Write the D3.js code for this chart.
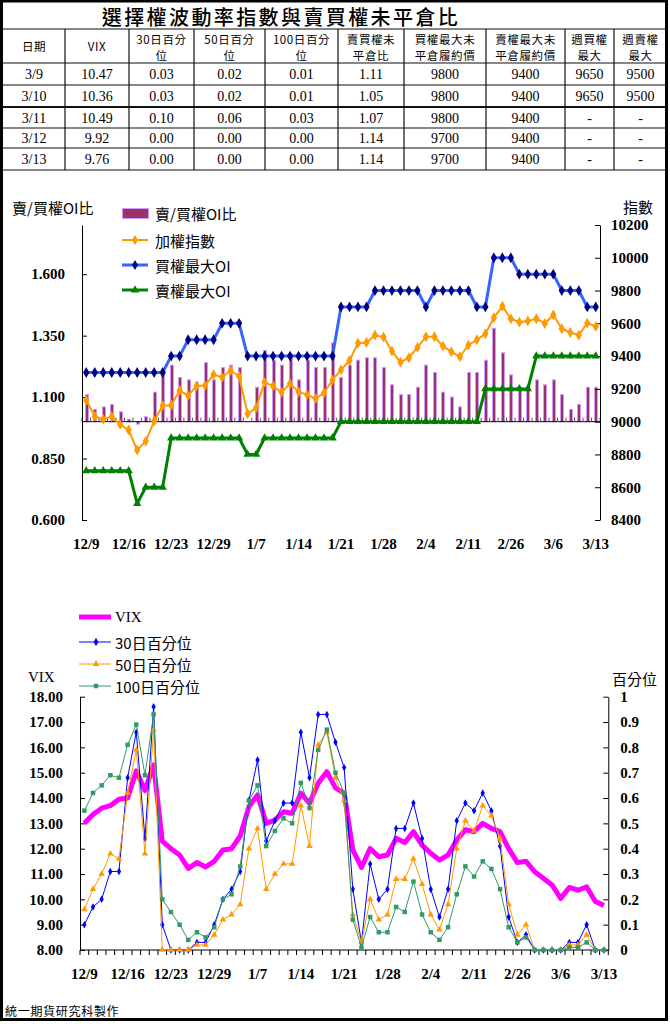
<!DOCTYPE html>
<html><head><meta charset="utf-8">
<script src="https://cdn.jsdelivr.net/npm/d3@7"></script>
<style>body{margin:0;background:#fff;}svg{display:block;}</style>
</head><body>
<svg id="c" width="670" height="1024"></svg>
<script>
// ---------------- DATA ----------------
const dates = ["12/9","12/10","12/11","12/12","12/15","12/16","12/17","12/18","12/19","12/22",
"12/23","12/24","12/25","12/26","12/27","12/29","12/30","12/31","1/5","1/6",
"1/7","1/8","1/9","1/12","1/13","1/14","1/15","1/16","1/19","1/20",
"1/21","1/22","1/23","1/26","1/27","1/28","1/29","1/30","2/2","2/3",
"2/4","2/5","2/6","2/9","2/10","2/11","2/12","2/13","2/24","2/25",
"2/26","3/2","3/3","3/4","3/5","3/6","3/9","3/10","3/11","3/12","3/13"];
const labelIdx = [0,5,10,15,20,25,30,35,40,45,50,55,60];

const oiRatio = [1.11,1.05,1.06,1.07,1.04,1.01,0.99,1.02,1.12,1.20,
1.23,1.18,1.17,1.16,1.24,1.17,1.22,1.23,1.22,1.00,
1.14,1.29,1.25,1.23,1.26,1.17,1.25,1.22,1.22,1.32,
1.18,1.23,1.25,1.26,1.26,1.22,1.15,1.11,1.11,1.14,
1.23,1.20,1.12,1.10,1.06,1.20,1.20,1.25,1.38,1.28,
1.19,1.14,1.14,1.17,1.15,1.17,1.11,1.05,1.07,1.14,1.14];
const taiex = [9130,9033,9014,9031,8982,8949,8827,8880,9004,9098,
9100,9190,9159,9218,9220,9287,9271,9312,9277,9049,
9084,9240,9218,9179,9232,9182,9165,9141,9175,9255,
9316,9373,9479,9483,9528,9516,9430,9363,9390,9453,
9518,9518,9461,9426,9396,9467,9500,9536,9634,9705,
9628,9607,9614,9628,9599,9652,9567,9544,9528,9601,9581];
const callMaxOI = [9300,9300,9300,9300,9300,9300,9300,9300,9300,9300,
9400,9400,9500,9500,9500,9500,9600,9600,9600,9400,
9400,9400,9400,9400,9400,9400,9400,9400,9400,9400,
9700,9700,9700,9700,9800,9800,9800,9800,9800,9800,
9700,9800,9800,9800,9800,9800,9700,9700,10000,10000,
10000,9900,9900,9900,9900,9900,9800,9800,9800,9700,9700];
const putMaxOI = [8700,8700,8700,8700,8700,8700,8500,8600,8600,8600,
8900,8900,8900,8900,8900,8900,8900,8900,8900,8800,
8800,8900,8900,8900,8900,8900,8900,8900,8900,8900,
9000,9000,9000,9000,9000,9000,9000,9000,9000,9000,
9000,9000,9000,9000,9000,9000,9000,9200,9200,9200,
9200,9200,9200,9400,9400,9400,9400,9400,9400,9400,9400];

const vix = [13.00,13.35,13.60,13.70,13.95,14.00,15.07,14.30,15.30,12.30,
12.00,11.75,11.22,11.45,11.28,11.50,11.95,12.00,12.50,13.66,
14.12,13.00,13.13,13.46,13.40,14.19,13.79,14.58,15.04,14.40,
14.19,11.95,11.26,12.01,11.68,11.75,12.41,12.24,12.67,12.14,
11.82,11.55,11.75,12.34,12.75,12.67,13.00,12.80,12.67,12.00,
11.45,11.50,11.09,10.83,10.57,10.04,10.47,10.36,10.49,9.92,9.76];
const pct30 = [0.10,0.17,0.20,0.31,0.31,0.68,0.86,0.44,0.96,0.10,
0,0,0,0.03,0.03,0.10,0.20,0.24,0.31,0.59,
0.75,0.43,0.51,0.58,0.58,0.86,0.68,0.93,0.93,0.82,
0.72,0.24,0.03,0.34,0.20,0.24,0.48,0.48,0.58,0.44,
0.24,0.13,0.24,0.51,0.58,0.55,0.62,0.55,0.41,0.13,
0.03,0.06,0,0,0,0,0.03,0.03,0.10,0,0];
const pct50 = [0.16,0.24,0.30,0.38,0.36,0.62,0.79,0.38,0.87,0,
0,0,0,0.02,0.02,0.06,0.12,0.14,0.18,0.40,
0.48,0.24,0.30,0.34,0.34,0.57,0.41,0.81,0.86,0.68,
0.59,0.14,0.03,0.20,0.12,0.14,0.28,0.28,0.36,0.26,
0.14,0.08,0.18,0.40,0.51,0.47,0.57,0.53,0.44,0.18,
0.06,0.10,0,0,0,0,0.02,0.02,0.06,0,0];
const pct100 = [0.55,0.62,0.65,0.69,0.68,0.81,0.89,0.69,0.93,0.20,
0.15,0.10,0.04,0.07,0.05,0.09,0.20,0.22,0.33,0.59,
0.65,0.41,0.47,0.52,0.50,0.66,0.56,0.79,0.87,0.70,
0.62,0.12,0.01,0.13,0.07,0.07,0.17,0.15,0.27,0.14,
0.07,0.04,0.09,0.22,0.33,0.29,0.35,0.32,0.24,0.09,
0.03,0.05,0,0,0,0,0.01,0.01,0.03,0,0];

const upperTicksL = [0.6,0.85,1.1,1.35,1.6];
const upperTicksR = [8400,8600,8800,9000,9200,9400,9600,9800,10000,10200];
const lowerTicksL = [8,9,10,11,12,13,14,15,16,17,18];
const lowerTicksR = [0,0.1,0.2,0.3,0.4,0.5,0.6,0.7,0.8,0.9,1];

// table
const tableTitle = "選擇權波動率指數與賣買權未平倉比";
const tableHeader = [["日期"],["VIX"],["30日百分","位"],["50日百分","位"],["100日百分","位"],
  ["賣買權未","平倉比"],["買權最大未","平倉履約價"],["賣權最大未","平倉履約價"],["週買權","最大"],["週賣權","最大"]];
const tDates = ["3/9","3/10","3/11","3/12","3/13"];
const tVix = ["10.47","10.36","10.49","9.92","9.76"];
const t30 = ["0.03","0.03","0.10","0.00","0.00"];
const t50 = ["0.02","0.02","0.06","0.00","0.00"];
const t100 = ["0.01","0.01","0.03","0.00","0.00"];
const tRatio = ["1.11","1.05","1.07","1.14","1.14"];
const tCallStrike = ["9800","9800","9800","9700","9700"];
const tPutStrike = ["9400","9400","9400","9400","9400"];
const tWeekCall = ["9650","9650","-","-","-"];
const tWeekPut = ["9500","9500","-","-","-"];

// ---------------- DRAW ----------------
const svg = d3.select("#c");
const CJK = "'Noto Sans CJK TC','Noto Sans CJK SC',sans-serif";
const SERIF = "'Liberation Serif','Times New Roman',serif";
svg.append("rect").attr("width",670).attr("height",1024).attr("fill","#fff");

// ---- table ----
const colX = [3,65,129,194,265,338,404,486,565,614,667];
const rowY = [29,63,85,107,128,148,170];
const tg = svg.append("g");
tg.append("text").attr("x",281).attr("y",24.5).attr("text-anchor","middle")
  .attr("font-family",CJK).attr("font-size",20).attr("letter-spacing",2.4).attr("font-weight",500)
  .attr("fill","#000").text(tableTitle);
rowY.forEach((y,k)=>{
  tg.append("line").attr("x1",3).attr("x2",667).attr("y1",y).attr("y2",y)
    .attr("stroke","#111").attr("stroke-width",k===3?2:1.2);
});
colX.slice(1,-1).forEach(x=>{
  tg.append("line").attr("x1",x).attr("x2",x).attr("y1",29).attr("y2",170).attr("stroke","#111").attr("stroke-width",1.2);
});
tableHeader.forEach((lines,c)=>{
  const cx=(colX[c]+colX[c+1])/2;
  const ys = lines.length===1?[51]:[43.7,60.4];
  lines.forEach((s,j)=>{
    tg.append("text").attr("x",cx).attr("y",ys[j]).attr("text-anchor","middle")
      .attr("font-family",CJK).attr("font-size",11.5).attr("letter-spacing",0.6).attr("fill","#000").text(s);
  });
});
const tCols=[tDates,tVix,t30,t50,t100,tRatio,tCallStrike,tPutStrike,tWeekCall,tWeekPut];
tCols.forEach((col,c)=>{
  const cx=(colX[c]+colX[c+1])/2;
  col.forEach((s,r)=>{
    tg.append("text").attr("x",cx).attr("y",(rowY[r+1]+rowY[r+2])/2+5).attr("text-anchor","middle")
      .attr("font-family",SERIF).attr("font-size",14).attr("fill","#000").text(s);
  });
});

function styleAxis(g){
  g.attr("font-family",SERIF).attr("font-size",15).attr("font-weight","bold");
  g.selectAll("text").attr("fill","#000");
  g.selectAll("line,path").attr("stroke","#000");
}

// ---- upper chart ----
const xU = d3.scaleBand().domain(d3.range(dates.length)).range([82,600]).padding(0);
const cU = i => xU(i)+xU.bandwidth()/2;
const yL = d3.scaleLinear().domain([0.6,1.8]).range([520,225]);
const yR = d3.scaleLinear().domain([8400,10200]).range([520,225]);
const base = yL(1.0);

svg.append("g").selectAll("rect").data(oiRatio).join("rect")
  .attr("x",(d,i)=>Math.round(cU(i)-1.5)+0.5).attr("width",3)
  .attr("y",d=>Math.min(yL(d),base)).attr("height",d=>Math.abs(yL(d)-base))
  .attr("fill","#993366").attr("stroke","#CC99FF").attr("stroke-width",1);

svg.append("line").attr("x1",82).attr("x2",600).attr("y1",base).attr("y2",base).attr("stroke","#000");
svg.append("g").selectAll("line").data(d3.range(dates.length+1)).join("line")
  .attr("x1",k=>82+k*xU.step()).attr("x2",k=>82+k*xU.step())
  .attr("y1",base).attr("y2",base-4).attr("stroke","#555");

svg.append("g").attr("transform","translate(82,0)")
  .call(d3.axisLeft(yL).tickValues(upperTicksL).tickFormat(d3.format(".3f")).tickSizeInner(-5).tickSizeOuter(0).tickPadding(17))
  .call(styleAxis);
svg.append("g").attr("transform","translate(600,0)")
  .call(d3.axisRight(yR).tickValues(upperTicksR).tickFormat(d3.format("d")).tickSizeInner(-5).tickSizeOuter(0).tickPadding(11))
  .call(styleAxis);
svg.append("g").attr("transform","translate(0,520)")
  .call(d3.axisBottom(xU).tickValues(labelIdx).tickFormat(i=>dates[i]).tickSize(0).tickPadding(18))
  .call(g=>g.select(".domain").remove()).call(styleAxis);

function series(g, data, xf, yf, color, w, sym, size, mcolor){
  g.append("path").datum(data).attr("fill","none").attr("stroke",color).attr("stroke-width",w)
    .attr("stroke-linejoin","round")
    .attr("d",d3.line().x((d,i)=>xf(i)).y(d=>yf(d)));
  if(sym){
    g.append("g").selectAll("path").data(data).join("path")
      .attr("transform",(d,i)=>`translate(${xf(i)},${yf(d)})`)
      .attr("d",d3.symbol(sym,size)).attr("fill",mcolor);
  }
}
const ug = svg.append("g");
series(ug, taiex, cU, yR, "#FF9900", 2, d3.symbolDiamond, 34, "#FF9900");
series(ug, callMaxOI, cU, yR, "#3366FF", 3, d3.symbolDiamond, 34, "#000080");
series(ug, putMaxOI, cU, yR, "#008000", 3, d3.symbolTriangle, 30, "#008000");

svg.append("text").attr("x",12).attr("y",207).attr("dominant-baseline","central")
  .attr("font-family",CJK).attr("font-size",15).attr("fill","#000").text("賣/買權OI比");
svg.append("text").attr("x",623).attr("y",206).attr("dominant-baseline","central")
  .attr("font-family",CJK).attr("font-size",15).attr("fill","#000").text("指數");

const lg = svg.append("g");
lg.append("rect").attr("x",122.5).attr("y",208.5).attr("width",26).attr("height",10)
  .attr("fill","#993366").attr("stroke","#CC99FF");
const legU = [["賣/買權OI比",213,null],["加權指數",240,["#FF9900",2,d3.symbolDiamond,"#FF9900"]],
  ["買權最大OI",265,["#3366FF",3,d3.symbolDiamond,"#000080"]],["賣權最大OI",290,["#008000",3,d3.symbolTriangle,"#008000"]]];
legU.forEach(([t,y,st])=>{
  if(st){
    lg.append("line").attr("x1",122).attr("x2",148).attr("y1",y).attr("y2",y).attr("stroke",st[0]).attr("stroke-width",st[1]);
    lg.append("path").attr("transform",`translate(135,${y})`).attr("d",d3.symbol(st[2],30)).attr("fill",st[3]);
  }
  lg.append("text").attr("x",155).attr("y",y).attr("dominant-baseline","central")
    .attr("font-family",CJK).attr("font-size",15).attr("fill","#000").text(t);
});

// ---- lower chart ----
const xLo = d3.scaleBand().domain(d3.range(dates.length)).range([80,608.3]).padding(0);
const cL = i => xLo(i)+xLo.bandwidth()/2;
const yV = d3.scaleLinear().domain([8,18]).range([950,696.7]);
const yP = d3.scaleLinear().domain([0,1]).range([950,696.7]);

svg.append("g").attr("transform","translate(80,0)")
  .call(d3.axisLeft(yV).tickValues(lowerTicksL).tickFormat(d3.format(".2f")).tickSizeInner(-5).tickSizeOuter(0).tickPadding(17))
  .call(styleAxis);
svg.append("g").attr("transform","translate(608.3,0)")
  .call(d3.axisRight(yP).tickValues(lowerTicksR).tickFormat(d=>d===0?"0":d===1?"1":d3.format(".1f")(d)).tickSizeInner(-5).tickSizeOuter(0).tickPadding(12))
  .call(styleAxis);
svg.append("line").attr("x1",80).attr("x2",608.3).attr("y1",950).attr("y2",950).attr("stroke","#000");
svg.append("g").selectAll("line").data(d3.range(dates.length+1)).join("line")
  .attr("x1",k=>80+k*xLo.step()).attr("x2",k=>80+k*xLo.step())
  .attr("y1",950).attr("y2",955).attr("stroke","#000");
svg.append("g").attr("transform","translate(0,950)")
  .call(d3.axisBottom(xLo).tickValues(labelIdx).tickFormat(i=>dates[i]).tickSize(0).tickPadding(18))
  .call(g=>g.select(".domain").remove()).call(styleAxis);

const lgr = svg.append("g");
series(lgr, vix, cL, yV, "#FF00FF", 5, null);
series(lgr, pct30, cL, yP, "#0000FF", 1, d3.symbolDiamond, 16, "#0000FF");
series(lgr, pct50, cL, yP, "#FF9900", 1, d3.symbolTriangle, 18, "#FF9900");
series(lgr, pct100, cL, yP, "#339966", 1, d3.symbolSquare, 20, "#339966");

svg.append("text").attr("x",28).attr("y",682).attr("font-family",SERIF).attr("font-size",15).attr("fill","#000").text("VIX");
svg.append("text").attr("x",612).attr("y",678).attr("dominant-baseline","central")
  .attr("font-family",CJK).attr("font-size",15).attr("fill","#000").text("百分位");

const legL = [["VIX",617,"#FF00FF",5,null],["30日百分位",642,"#0000FF",1,d3.symbolDiamond],
  ["50日百分位",664,"#FF9900",1,d3.symbolTriangle],["100日百分位",686,"#339966",1,d3.symbolSquare]];
legL.forEach(([t,y,c,w,sym])=>{
  lgr.append("line").attr("x1",79).attr("x2",111).attr("y1",y).attr("y2",y).attr("stroke",c).attr("stroke-width",w);
  if(sym) lgr.append("path").attr("transform",`translate(96,${y})`).attr("d",d3.symbol(sym,20)).attr("fill",c);
  lgr.append("text").attr("x",115).attr("y",y).attr("dominant-baseline","central")
    .attr("font-family",t==="VIX"?SERIF:CJK).attr("font-size",15).attr("fill","#000").text(t);
});

svg.append("text").attr("x",5).attr("y",1016).attr("font-family",CJK).attr("font-size",12)
  .attr("letter-spacing",0.7).attr("fill","#000").text("統一期貨研究科製作");

svg.append("rect").attr("x",1.5).attr("y",1).attr("width",665).attr("height",1018.5)
  .attr("fill","none").attr("stroke","#000").attr("stroke-width",3);
</script>
</body></html>
